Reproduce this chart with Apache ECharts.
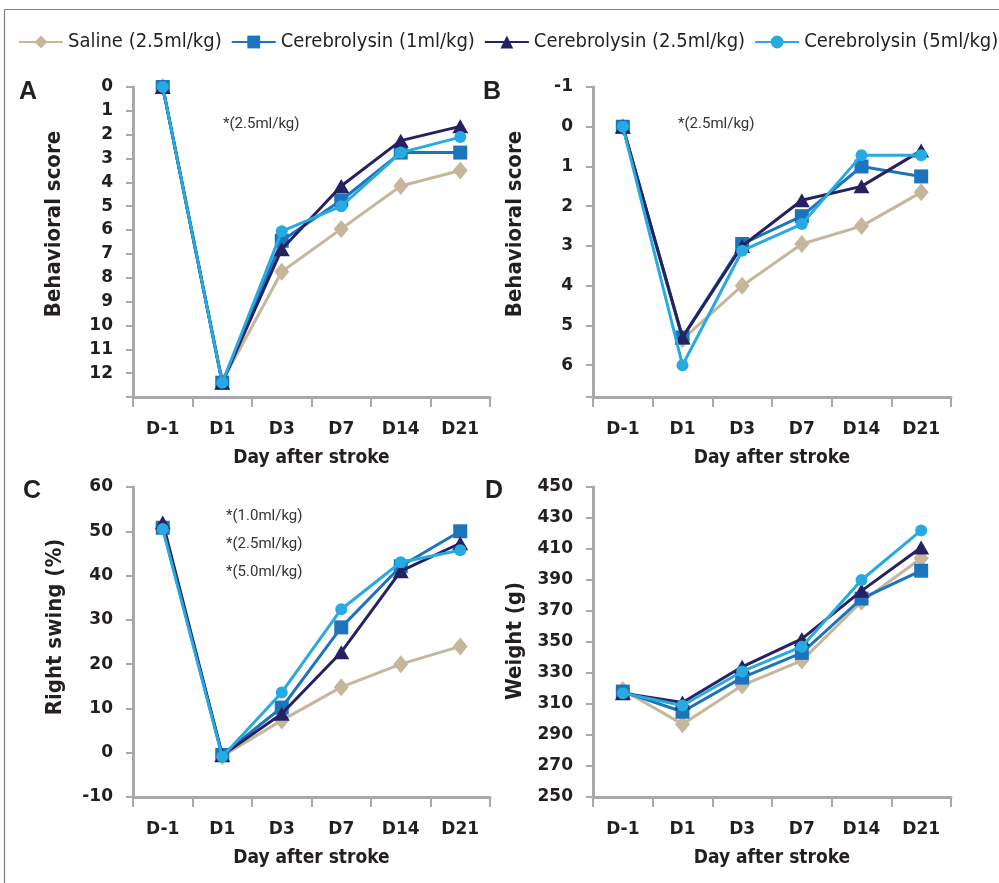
<!DOCTYPE html>
<html>
<head>
<meta charset="utf-8">
<script src="https://cdn.jsdelivr.net/npm/echarts@6/dist/echarts.min.js"></script>
<style>html,body{margin:0;padding:0;background:#fff;}#main{width:999px;height:883px;}</style>
</head>
<body>
<div id="main"></div>
<script>
// ---- data ----
const days = ['D-1', 'D1', 'D3', 'D7', 'D14', 'D21'];
const seriesNames = ['Saline (2.5ml/kg)', 'Cerebrolysin (1ml/kg)', 'Cerebrolysin (2.5ml/kg)', 'Cerebrolysin (5ml/kg)'];

// Panel A: behavioral score
const salineA = [0, 12.35, 7.75, 5.95, 4.15, 3.5];
const cereb1A = [0, 12.4, 6.45, 4.75, 2.75, 2.75];
const cereb25A = [0, 12.4, 6.8, 4.15, 2.25, 1.65];
const cereb5A = [0, 12.4, 6.05, 5.0, 2.75, 2.1];

// Panel B: behavioral score
const salineB = [0, 5.35, 4.0, 2.95, 2.5, 1.65];
const cereb1B = [0, 5.3, 2.95, 2.25, 1.0, 1.25];
const cereb25B = [0, 5.3, 3.0, 1.85, 1.5, 0.6];
const cereb5B = [0, 6.0, 3.12, 2.45, 0.72, 0.72];

// Panel C: right swing (%)
const salineC = [51, -0.8, 7.3, 14.8, 20, 24];
const cereb1C = [50.8, -0.5, 10.2, 28.3, 42.1, 50];
const cereb25C = [52, -0.6, 8.8, 22.7, 41, 47.3];
const cereb5C = [50.5, -0.9, 13.6, 32.4, 43, 45.7];

// Panel D: weight (g)
const salineD = [319, 297, 322, 338, 376, 404];
const cereb1D = [318, 305, 327, 343, 378, 396];
const cereb25D = [317, 311, 334, 352, 383, 411];
const cereb5D = [317, 309, 331, 347, 390, 422];

const panelData = [
  [salineA, cereb1A, cereb25A, cereb5A],
  [salineB, cereb1B, cereb25B, cereb5B],
  [salineC, cereb1C, cereb25C, cereb5C],
  [salineD, cereb1D, cereb25D, cereb5D]
];
const yNames = ['Behavioral score', 'Behavioral score', 'Right swing (%)', 'Weight (g)'];
const xName = 'Day after stroke';
const panelLetters = ['A', 'B', 'C', 'D'];
const notesA = ['*(2.5ml/kg)'];
const notesB = ['*(2.5ml/kg)'];
const notesC = ['*(1.0ml/kg)', '*(2.5ml/kg)', '*(5.0ml/kg)'];

// ---- styles ----
const colors = ['#c6b79c', '#1c75bc', '#262262', '#27aae1'];
const symbols = ['diamond', 'rect', 'triangle', 'circle'];
const symbolSizes = [[15, 18], 14, [16, 14], 12];
const axisGray = '#a7a9ac';
const textDark = '#231f20';

const grids = [
  { left: 133, top: 87, width: 357, height: 310 },
  { left: 593, top: 87, width: 358, height: 310 },
  { left: 133, top: 487, width: 357, height: 310 },
  { left: 593, top: 487, width: 358, height: 310 }
];

const yCfg = [
  { min: 0, max: 13, interval: 1, inverse: true },
  { min: -1, max: 6.8, interval: 1, inverse: true },
  { min: -10, max: 60, interval: 10, inverse: false },
  { min: 250, max: 450, interval: 20, inverse: false }
];

const xAxes = grids.map((g, i) => ({
  type: 'category',
  gridIndex: i,
  data: days,
  boundaryGap: true,
  name: xName,
  nameLocation: 'middle',
  nameGap: 52,
  nameTextStyle: { fontFamily: 'DejaVu Sans Condensed', fontWeight: 'bold', fontSize: 19, color: textDark },
  axisLine: { onZero: false, lineStyle: { color: axisGray, width: 3 } },
  axisTick: { show: true, length: 10, lineStyle: { color: axisGray, width: 2 } },
  axisLabel: { margin: 24, fontFamily: 'DejaVu Sans', fontWeight: 'bold', fontSize: 17, color: textDark },
  splitLine: { show: false }
}));

const yAxes = yCfg.map((c, i) => ({
  type: 'value',
  gridIndex: i,
  min: c.min,
  max: c.max,
  interval: c.interval,
  inverse: c.inverse,
  axisLine: { show: true, onZero: false, lineStyle: { color: axisGray, width: 3 } },
  axisTick: { show: true, length: 7, lineStyle: { color: axisGray, width: 2 } },
  axisLabel: {
    margin: 20,
    fontFamily: 'DejaVu Sans', fontWeight: 'bold', fontSize: 17, color: textDark,
    formatter: function (v) {
      if (i === 0 && v === 13) return '';
      if (Math.abs(v - Math.round(v)) > 1e-6) return '';
      return String(v);
    }
  },
  splitLine: { show: false }
}));

const series = [];
panelData.forEach((arrs, p) => {
  arrs.forEach((arr, s) => {
    series.push({
      name: seriesNames[s],
      type: 'line',
      xAxisIndex: p,
      yAxisIndex: p,
      data: arr,
      symbol: symbols[s],
      symbolSize: symbolSizes[s],
      showAllSymbol: true,
      lineStyle: { color: colors[s], width: 3 },
      itemStyle: { color: colors[s] },
      z: 2 + s,
      animation: false
    });
  });
});

const yNamePos = [[54, 224], [515, 224], [55, 627], [515, 641]];
const letterPos = [[28, 92], [492, 92], [32, 491], [494, 491]];

const graphics = [];
// frame lines
graphics.push({ type: 'line', shape: { x1: 4.5, y1: 9.5, x2: 999, y2: 9.5 }, style: { stroke: '#808080', lineWidth: 1.2 } });
graphics.push({ type: 'line', shape: { x1: 4.5, y1: 9.5, x2: 4.5, y2: 883 }, style: { stroke: '#808080', lineWidth: 1.2 } });
yNames.forEach((n, i) => {
  graphics.push({
    type: 'text', x: yNamePos[i][0], y: yNamePos[i][1], rotation: Math.PI / 2,
    style: { text: n, fill: textDark, font: 'bold 22px "DejaVu Sans Condensed"', textAlign: 'center', textVerticalAlign: 'middle' }
  });
});
panelLetters.forEach((l, i) => {
  graphics.push({
    type: 'text', x: letterPos[i][0], y: letterPos[i][1],
    style: { text: l, fill: textDark, font: 'bold 25px "Liberation Sans"', textAlign: 'center', textVerticalAlign: 'middle' }
  });
});
function addNotes(notes, x, y0, dy) {
  notes.forEach((t, k) => {
    graphics.push({
      type: 'text', x: x, y: y0 + k * dy,
      style: { text: t, fill: '#333333', font: '15px Roboto', textAlign: 'left', textVerticalAlign: 'middle' }
    });
  });
}
addNotes(notesA, 223, 124, 0);
addNotes(notesB, 678, 124, 0);
addNotes(notesC, 226, 516, 28);

const chart = echarts.init(document.getElementById('main'), null, { renderer: 'canvas' });
chart.setOption({
  animation: false,
  backgroundColor: '#ffffff',
  legend: {
    data: seriesNames,
    left: 18,
    top: 32,
    width: 990,
    padding: 0,
    itemWidth: 44,
    itemHeight: 16,
    itemGap: 9,
    textStyle: { fontFamily: 'DejaVu Sans Condensed', fontSize: 20, color: '#231f20' }
  },
  grid: grids,
  xAxis: xAxes,
  yAxis: yAxes,
  series: series,
  graphic: graphics
});
</script>
</body>
</html>
